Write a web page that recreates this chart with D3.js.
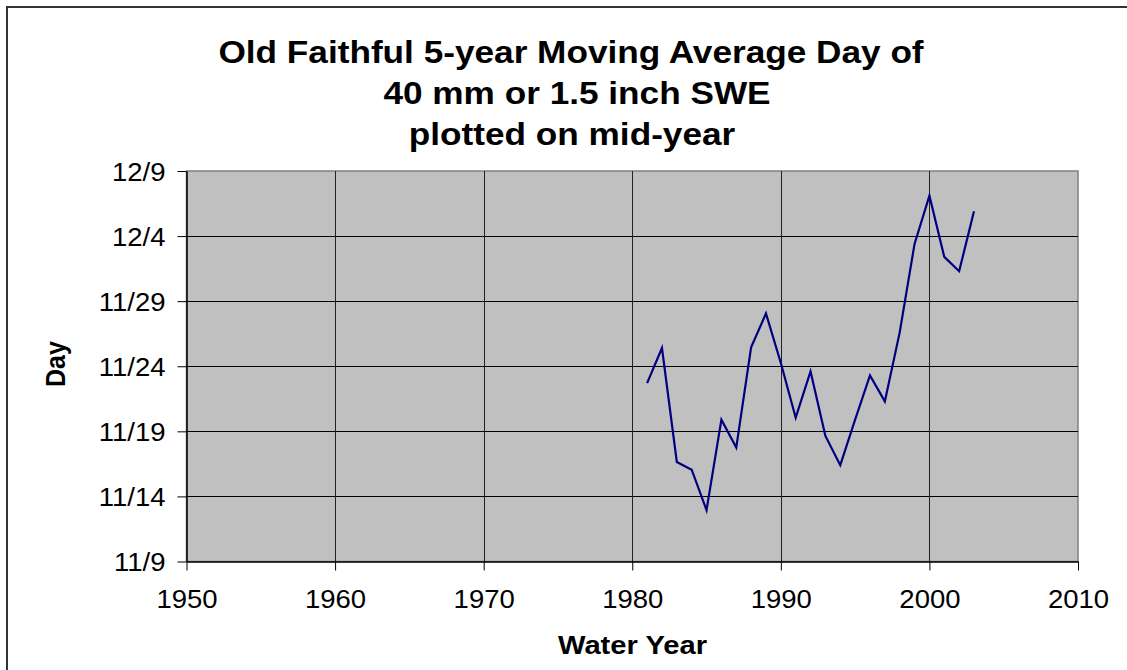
<!DOCTYPE html>
<html><head><meta charset="utf-8">
<script src="https://cdn.jsdelivr.net/npm/d3@7"></script>
<style>
html,body{margin:0;padding:0;background:#fff;}
svg{display:block;font-family:"Liberation Sans",Arial,sans-serif;}
</style></head>
<body><svg id="c" width="1127" height="670"></svg>
<script>
// Data: day value = days counted from Nov 0 (11/9 -> 9, 12/9 -> 39)
const years = [1981,1982,1983,1984,1985,1986,1987,1988,1989,1990,1991,1992,1993,1994,1995,1996,1997,1998,1999,2000,2001,2002,2003];
const dayValues = [22.7,25.4,16.65,16.05,12.95,19.9,17.75,25.45,28.05,24.25,20.05,23.6,18.65,16.4,19.9,23.3,21.3,26.6,33.4,37.1,32.4,31.3,35.9];
const yTickValues = [9,14,19,24,29,34,39];
const yTickLabels = ["11/9","11/14","11/19","11/24","11/29","12/4","12/9"];
const xTickValues = [1950,1960,1970,1980,1990,2000,2010];
const titleLines = ["Old Faithful 5-year Moving Average Day of","40 mm or 1.5 inch SWE","plotted on mid-year"];

const svg = d3.select("#c");
const L = 186.5, R = 1078, T = 171, B = 561.5;
const x = d3.scaleLinear().domain([1950,2010]).range([L,R]);
const y = d3.scaleLinear().domain([9,39]).range([B,T]);
const SX = 1.1;

// outer chart border
svg.append("rect").attr("x",7).attr("y",7).attr("width",1300).attr("height",900)
  .attr("fill","none").attr("stroke","#333").attr("stroke-width",2);

// plot area
svg.append("rect").attr("x",L).attr("y",T).attr("width",R-L).attr("height",B-T)
  .attr("fill","#c0c0c0").attr("stroke","#808080").attr("stroke-width",1.5);

// gridlines
svg.append("g").selectAll("line").data(yTickValues.slice(1,-1)).join("line")
  .attr("x1",L).attr("x2",R).attr("y1",d=>Math.round(y(d))+0.5).attr("y2",d=>Math.round(y(d))+0.5)
  .attr("stroke","#000").attr("stroke-width",1);
svg.append("g").selectAll("line").data(xTickValues.slice(1,-1)).join("line")
  .attr("y1",T).attr("y2",B).attr("x1",d=>Math.round(x(d))+0.5).attr("x2",d=>Math.round(x(d))+0.5)
  .attr("stroke","#222").attr("stroke-width",1);

// axes
const xAxis = svg.append("g").attr("transform",`translate(0,${B})`)
  .call(d3.axisBottom(x).tickValues(xTickValues).tickFormat(d3.format("d")).tickSizeOuter(0).tickSizeInner(9));
const yAxis = svg.append("g").attr("transform",`translate(${L},0)`)
  .call(d3.axisLeft(y).tickValues(yTickValues).tickFormat((d,i)=>yTickLabels[i]).tickSizeOuter(0).tickSizeInner(9));
[xAxis,yAxis].forEach(a=>{
  a.select(".domain").attr("stroke","#000").attr("stroke-width",1.5);
  a.selectAll(".tick line").attr("stroke","#000").attr("stroke-width",1);
  a.selectAll("text").attr("fill","#000").style("font-size","25px").attr("font-family","Liberation Sans, Arial, sans-serif");
});
xAxis.selectAll(".tick text").attr("y",null).attr("dy",null)
  .attr("transform",`translate(0,46) scale(${SX},1)`);
yAxis.selectAll(".tick text").attr("x",null).attr("dy",null)
  .attr("transform",`translate(-21,9) scale(${SX},1)`);

// line
const line = d3.line().x((d,i)=>x(years[i])).y(d=>y(d));
svg.append("path").datum(dayValues).attr("d",line)
  .attr("fill","none").attr("stroke","#000080").attr("stroke-width",2.2).attr("stroke-linejoin","miter");

// title
const tBase = [62.5,103.5,144.5];
const tCx = [571,577,572];
titleLines.forEach((t,i)=>{
  svg.append("text").attr("transform",`translate(${tCx[i]},${tBase[i]}) scale(${SX},1)`)
    .attr("text-anchor","middle").attr("font-weight","bold").style("font-size","32px").text(t);
});

// axis titles
svg.append("text").attr("transform",`translate(632.5,654) scale(${SX},1)`)
  .attr("text-anchor","middle").attr("font-weight","bold").style("font-size","26.5px").text("Water Year");
svg.append("text").attr("transform",`translate(65,364) scale(${SX},1) rotate(-90)`)
  .attr("text-anchor","middle").attr("font-weight","bold").style("font-size","25px").text("Day");
</script></body></html>
